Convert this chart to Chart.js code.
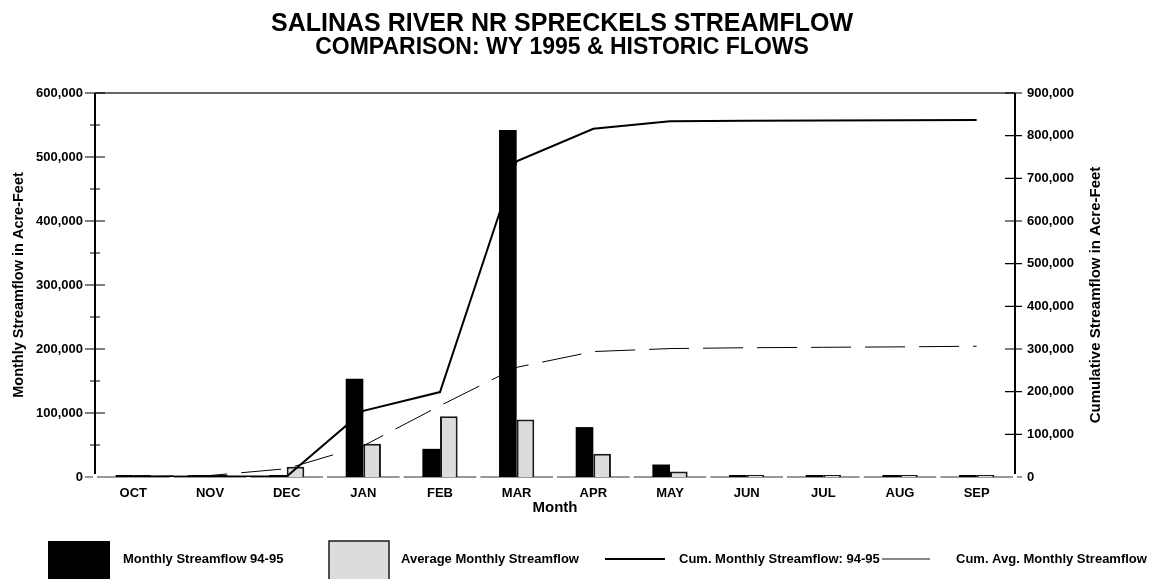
<!DOCTYPE html>
<html>
<head>
<meta charset="utf-8">
<script src="https://cdn.jsdelivr.net/npm/chart.js@4.4.1/dist/chart.umd.min.js"></script>
<style>
  html, body { margin: 0; padding: 0; background: #fff; }
  #wrap { width: 1158px; height: 579px; position: relative; }
</style>
</head>
<body>
<div id="wrap"><canvas id="flowChart" width="1158" height="579"></canvas></div>
<script>
// water year months
const months = ['OCT', 'NOV', 'DEC', 'JAN', 'FEB', 'MAR', 'APR', 'MAY', 'JUN', 'JUL', 'AUG', 'SEP'];

// monthly streamflow, acre-feet
const monthly9495 = [600, 400, 200, 153500, 44000, 542000, 78000, 19500, 600, 300, 200, 200];
const monthlyAvg = [1500, 1500, 16000, 52000, 95000, 90000, 36500, 8500, 2000, 1000, 1000, 2000];

// cumulative streamflow, acre-feet (right axis)
const cum9495 = [600, 1000, 1200, 155000, 199000, 740000, 816000, 834000, 835000, 835500, 836000, 836500];
const cumAvg = [1500, 3500, 19500, 73000, 167000, 257000, 294000, 301000, 303000, 304000, 305000, 306500];

const leftTicks = [0, 100000, 200000, 300000, 400000, 500000, 600000];
const rightTicks = [0, 100000, 200000, 300000, 400000, 500000, 600000, 700000, 800000, 900000];

const FONT = 'Liberation Sans, Arial, Helvetica, sans-serif';
const fmt = v => Number(v).toLocaleString('en-US');

// frame, tick marks, titles and legend drawn around the chart
const decorations = {
    id: 'decorations',
    beforeDatasetsDraw(chart) {
        const { ctx, chartArea: a, scales } = chart;
        const x = scales.x;
        ctx.save();
        // zero line, broken at each month boundary
        ctx.strokeStyle = '#777';
        ctx.lineWidth = 1.5;
        const half = (x.getPixelForTick(1) - x.getPixelForTick(0)) / 2;
        const y0 = scales.y.getPixelForValue(0);
        ctx.beginPath();
        ctx.moveTo(85, y0); ctx.lineTo(a.left - 2, y0);
        months.forEach((m, i) => {
            const c = x.getPixelForTick(i);
            ctx.moveTo(c - half + 2, y0);
            ctx.lineTo(c + half - 2, y0);
        });
        ctx.moveTo(a.right + 2, y0); ctx.lineTo(a.right + 7, y0);
        ctx.stroke();
        ctx.restore();
    },
    afterDraw(chart) {
        const { ctx, chartArea: a, scales } = chart;
        const y = scales.y, y2 = scales.y2;
        ctx.save();

        // top border
        ctx.strokeStyle = '#333';
        ctx.lineWidth = 1.5;
        ctx.beginPath();
        ctx.moveTo(a.left, a.top); ctx.lineTo(a.right, a.top);
        ctx.stroke();

        // axis lines
        ctx.strokeStyle = '#000';
        ctx.lineWidth = 2;
        ctx.beginPath();
        ctx.moveTo(a.left, a.top); ctx.lineTo(a.left, a.bottom - 3);
        ctx.moveTo(a.right, a.top); ctx.lineTo(a.right, a.bottom - 3);
        ctx.stroke();

        // tick marks crossing the axes, minor ticks halfway on the left
        ctx.lineWidth = 1.2;
        ctx.beginPath();
        y.ticks.forEach(t => {
            if (t.value === 0) return;
            const py = y.getPixelForValue(t.value);
            ctx.moveTo(a.left - 10, py); ctx.lineTo(a.left + 10, py);
            const mid = y.getPixelForValue(t.value - 50000);
            ctx.moveTo(a.left - 5, mid); ctx.lineTo(a.left + 5, mid);
        });
        y2.ticks.forEach(t => {
            if (t.value === 0) return;
            const py = y2.getPixelForValue(t.value);
            ctx.moveTo(a.right - 10, py); ctx.lineTo(a.right + 7, py);
        });
        ctx.stroke();

        // titles
        ctx.fillStyle = '#000';
        ctx.textAlign = 'center';
        ctx.textBaseline = 'alphabetic';
        ctx.font = 'bold 25px ' + FONT;
        ctx.fillText('SALINAS RIVER NR SPRECKELS STREAMFLOW', 562, 31);
        ctx.font = 'bold 23px ' + FONT;
        ctx.fillText('COMPARISON: WY 1995 & HISTORIC FLOWS', 562, 54);

        // right axis title, reading upward
        ctx.save();
        ctx.translate(1096, 295);
        ctx.rotate(-Math.PI / 2);
        ctx.textBaseline = 'middle';
        ctx.font = 'bold 15px ' + FONT;
        ctx.fillText('Cumulative Streamflow in Acre-Feet', 0, 0);
        ctx.restore();

        // legend
        const ds = chart.data.datasets;
        const ly = 559;
        ctx.font = 'bold 13px ' + FONT;
        ctx.textAlign = 'left';
        ctx.textBaseline = 'middle';

        ctx.fillStyle = ds[0].backgroundColor;
        ctx.fillRect(48, 541, 62, 40);
        ctx.fillStyle = '#000';
        ctx.fillText(ds[0].label, 123, ly);

        ctx.fillStyle = ds[1].backgroundColor;
        ctx.fillRect(329, 541, 60, 40);
        ctx.strokeStyle = ds[1].borderColor;
        ctx.lineWidth = 1.5;
        ctx.strokeRect(329, 541, 60, 40);
        ctx.fillStyle = '#000';
        ctx.fillText(ds[1].label, 401, ly);

        ctx.strokeStyle = ds[2].borderColor;
        ctx.lineWidth = 2;
        ctx.beginPath();
        ctx.moveTo(605, ly); ctx.lineTo(665, ly);
        ctx.stroke();
        ctx.fillText(ds[2].label, 679, ly);

        ctx.strokeStyle = '#888';
        ctx.lineWidth = 2;
        ctx.beginPath();
        ctx.moveTo(882, ly); ctx.lineTo(930, ly);
        ctx.stroke();
        ctx.fillText(ds[3].label, 956, ly);

        ctx.restore();
    }
};

const ctx = document.getElementById('flowChart').getContext('2d');
new Chart(ctx, {
    type: 'bar',
    data: {
        labels: months,
        datasets: [
            {
                label: 'Monthly Streamflow 94-95',
                data: monthly9495,
                backgroundColor: '#000',
                borderWidth: 0,
                minBarLength: 2,
                categoryPercentage: 0.46,
                barPercentage: 1.0,
                yAxisID: 'y',
                order: 2
            },
            {
                label: 'Average Monthly Streamflow',
                data: monthlyAvg,
                backgroundColor: '#dcdcdc',
                borderColor: '#1a1a1a',
                borderWidth: 2,
                minBarLength: 2,
                categoryPercentage: 0.46,
                barPercentage: 1.0,
                yAxisID: 'y',
                order: 2
            },
            {
                type: 'line',
                label: 'Cum. Monthly Streamflow: 94-95',
                data: cum9495,
                borderColor: '#000',
                borderWidth: 2,
                pointRadius: 0,
                tension: 0,
                fill: false,
                yAxisID: 'y2',
                order: 1
            },
            {
                type: 'line',
                label: 'Cum. Avg. Monthly Streamflow',
                data: cumAvg,
                borderColor: '#000',
                borderWidth: 1,
                borderDash: [40, 14],
                pointRadius: 0,
                tension: 0,
                fill: false,
                yAxisID: 'y2',
                order: 1
            }
        ]
    },
    options: {
        responsive: false,
        animation: false,
        layout: { padding: { top: 93, bottom: 60, left: 0, right: 0 } },
        plugins: {
            legend: { display: false },
            title: { display: false },
            tooltip: { enabled: false }
        },
        scales: {
            x: {
                grid: { display: false, drawTicks: false },
                border: { display: false },
                ticks: { color: '#000', padding: 9, font: { family: FONT, size: 13, weight: 'bold' } },
                title: {
                    display: true,
                    text: 'Month',
                    color: '#000',
                    font: { family: FONT, size: 15, weight: 'bold' },
                    padding: { top: 0, bottom: 2 }
                },
                afterFit(s) { s.height = 42; }
            },
            y: {
                position: 'left',
                min: 0,
                max: 600000,
                grid: { display: false, drawTicks: false },
                border: { display: false },
                afterBuildTicks(s) { s.ticks = leftTicks.map(v => ({ value: v })); },
                ticks: {
                    color: '#000',
                    padding: 12,
                    font: { family: FONT, size: 13, weight: 'bold' },
                    callback: v => fmt(v)
                },
                title: {
                    display: true,
                    text: 'Monthly Streamflow in Acre-Feet',
                    color: '#000',
                    font: { family: FONT, size: 14.5, weight: 'bold' },
                    padding: { top: 10, bottom: 0 }
                },
                afterFit(s) { s.width = 95; }
            },
            y2: {
                position: 'right',
                min: 0,
                max: 900000,
                grid: { display: false, drawTicks: false },
                border: { display: false },
                afterBuildTicks(s) { s.ticks = rightTicks.map(v => ({ value: v })); },
                ticks: {
                    color: '#000',
                    padding: 12,
                    font: { family: FONT, size: 13, weight: 'bold' },
                    callback: v => fmt(v)
                },
                afterFit(s) { s.width = 143; }
            }
        }
    },
    plugins: [decorations]
});
</script>
</body>
</html>
